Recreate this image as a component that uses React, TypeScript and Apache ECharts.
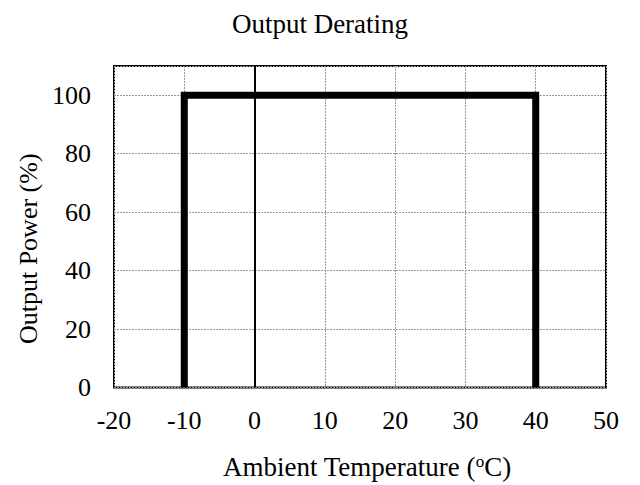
import React, { useEffect, useRef } from "react";
import * as echarts from "echarts";

const titleText = "Output Derating";
const xName = "Ambient Temperature ({sup|o}C)";
const yName = "Output Power (%)";
const xMin = -20;
const xMax = 50;
const xStep = 10;
const yMin = 0;
const yMax = 110;
const yStep = 20;
const temps = [-10, -10, 40, 40];
const power = [0, 100, 100, 0];
const zeroLineX = [0];

const FONT = "'Liberation Serif', 'Times New Roman', serif";

export default function App() {
  const ref = useRef<HTMLDivElement>(null);
  useEffect(() => {
    if (!ref.current) return;
    const chart = echarts.init(ref.current, undefined, { renderer: "svg" });
    chart.setOption({
      animation: false,
      backgroundColor: "#ffffff",
      title: {
        text: titleText,
        left: "center",
        top: 5,
        textStyle: { fontFamily: FONT, fontWeight: "normal", fontSize: 27, color: "#000" },
      },
      grid: {
        left: 114,
        top: 66,
        right: 34,
        bottom: 91,
        show: true,
        borderColor: "#000",
        borderWidth: 2,
        containLabel: false,
      },
      xAxis: {
        type: "value",
        min: xMin,
        max: xMax,
        interval: xStep,
        name: xName,
        nameLocation: "middle",
        nameGap: 65,
        nameTextStyle: {
          fontFamily: FONT,
          fontSize: 27,
          color: "#000",
          padding: [0, 0, 0, 14],
          rich: { sup: { fontFamily: FONT, fontSize: 17, color: "#000", padding: [0, 0, 11, 0] } },
        },
        axisLine: { show: false },
        axisTick: { show: false },
        axisLabel: { fontFamily: FONT, fontSize: 26, color: "#000", margin: 20 },
        splitLine: { show: true, lineStyle: { color: "#999", type: [2, 1], width: 1 } },
      },
      yAxis: {
        type: "value",
        min: yMin,
        max: yMax,
        interval: yStep,
        name: yName,
        nameLocation: "middle",
        nameGap: 71,
        nameTextStyle: { fontFamily: FONT, fontSize: 26, color: "#000", padding: [0, 44, 0, 0] },
        axisLine: { show: false },
        axisTick: { show: false },
        axisLabel: { fontFamily: FONT, fontSize: 26, color: "#000", margin: 23, showMaxLabel: false },
        splitLine: { show: true, lineStyle: { color: "#999", type: [2, 1], width: 1 } },
      },
      series: [
        {
          type: "line",
          data: temps.map((t, i) => [t, power[i]]),
          symbol: "none",
          clip: false,
          lineStyle: { color: "#000", width: 7, join: "miter", cap: "butt" },
          markLine: {
            silent: true,
            symbol: "none",
            label: { show: false },
            lineStyle: { color: "#000", width: 2, type: "solid" },
            data: zeroLineX.map((v) => ({ xAxis: v })),
          },
          z: 5,
        },
      ],
    });
    return () => chart.dispose();
  }, []);
  return (
    <div
      ref={ref}
      style={{ position: "fixed", left: 0, top: 0, width: 640, height: 485, background: "#fff" }}
    />
  );
}
